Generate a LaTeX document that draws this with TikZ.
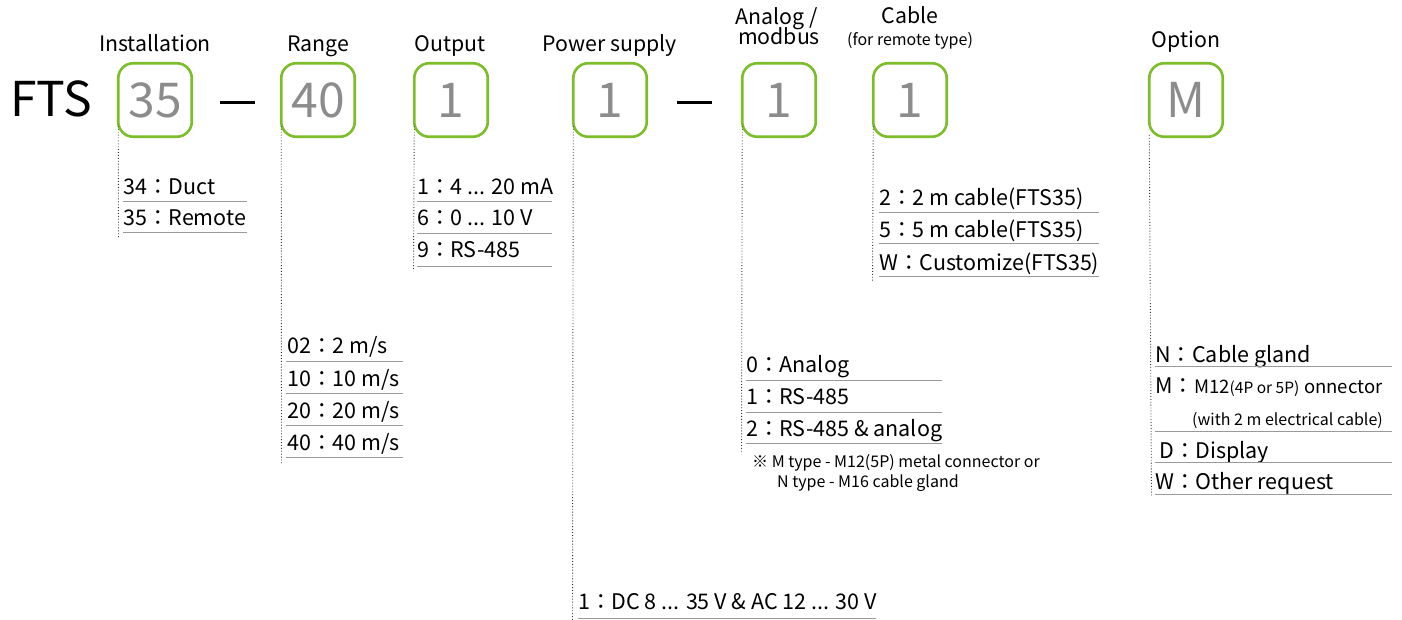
\documentclass[tikz,border=0pt]{standalone}
\usepackage{fontspec}
\setmainfont{Noto Sans CJK JP}
\usetikzlibrary{calc}
\definecolor{grn}{HTML}{7CBD2A}
\definecolor{numgray}{HTML}{8C8C8C}
\definecolor{lgray}{HTML}{9A9A9A}
\newcommand\fsz[1]{\fontsize{#1}{#1}\selectfont}
\begin{document}
\begin{tikzpicture}[x=1pt,y=-1pt,
  digit/.style={draw=grn, line width=2.6pt, rounded corners=15pt, minimum width=73.5pt, minimum height=73.5pt, outer sep=0pt, inner sep=0pt, text=numgray, font=\fsz{48}},
  head/.style={font=\fsz{21.3}, anchor=base, inner sep=0pt},
  item/.style={font=\fsz{21.5}, anchor=base west, inner sep=0pt},
  note/.style={font=\fsz{16}, anchor=base west, inner sep=0pt},
  uline/.style={draw=lgray, line width=1pt},
  dots/.style={dotted, line width=0.9pt, draw=black!80},
  dashline/.style={line width=3.5pt}]
\useasboundingbox (0,0) rectangle (1402,620);

% prefix
\node[anchor=base west, inner sep=0pt, font=\fsz{48}] (fts) at (10,117) {FTS};

% boxes
\node[digit] (b1) at (155,100) {35};
\node[digit] (b2) at (318,100) {40};
\node[digit] (b3) at (451,100) {1};
\node[digit] (b4) at (610,100) {1};
\node[digit] (b5) at (779,100) {1};
\node[digit] (b6) at (910,100) {1};
\node[digit] (b7) at (1186,100) {M};

% dashes
\draw[dashline] (220,102.5) -- (255,102.5);
\draw[dashline] (677,102.5) -- (712,102.5);

% headers
\node[head] (h1) at (155,52) {Installation};
\node[head] (h2) at (318,52) {Range};
\node[head] (h3) at (450,52) {Output};
\node[head] (h4) at (610,52) {Power supply};
\node[head] (h5a) at (777,25) {Analog /};
\node[head] (h5b) at (779,45) {modbus};
\node[head] (h6a) at (910,24) {Cable};
\node[head, font=\fsz{16}] (h6b) at (910,46) {(for remote type)};
\node[head] (h7) at (1186,48) {Option};

% dotted leaders
\coordinate (e1) at (118.5,239);
\coordinate (e2) at (281.5,463);
\coordinate (e3) at (413.5,271);
\coordinate (e4) at (572.5,620);
\coordinate (e5) at (741.5,452);
\coordinate (e6) at (872.5,282);
\coordinate (e7) at (1151.5,497);
\draw[dots] ($(b1.west)+(0,26)$) -- (e1);
\draw[dots] ($(b2.west)+(0,26)$) -- (e2);
\draw[dots] ($(b3.west)+(0,26)$) -- (e3);
\draw[dots] ($(b4.west)+(0,26)$) -- (e4);
\draw[dots] ($(b5.west)+(0,26)$) -- (e5);
\draw[dots] ($(b6.west)+(0,26)$) -- (e6);
\draw[dots] ($(b7.west)+(0,35)$) -- (e7);

% Installation
\node[item] (i1) at (123,195) {34：Duct};
\node[item] (i2) at (123,226) {35：Remote};
\draw[uline] (123,202) -- (247,202);
\draw[uline] (123,233) -- (247,233);

% Range
\node[item] (r1) at (287,353) {02：2 m/s};
\node[item] (r2) at (287,386) {10：10 m/s};
\node[item] (r3) at (287,418) {20：20 m/s};
\node[item] (r4) at (287,450) {40：40 m/s};
\draw[uline] (286,361) -- (403,361);
\draw[uline] (286,393) -- (403,393);
\draw[uline] (286,425) -- (403,425);
\draw[uline] (286,457) -- (403,457);

% Output
\node[item] (o1) at (417,195) {1：4 ... 20 mA};
\node[item] (o2) at (417,226) {6：0 ... 10 V};
\node[item] (o3) at (417,258) {9：RS-485};
\draw[uline] (417,202) -- (552,202);
\draw[uline] (417,234) -- (552,234);
\draw[uline] (417,267) -- (552,267);

% Power supply
\node[item] (p1) at (578,609) {1：DC 8 ... 35 V \& AC 12 ... 30 V};
\draw[uline] (578,618) -- (876,618);

% Analog / modbus
\node[item] (a1) at (746,372) {0：Analog};
\node[item] (a2) at (746,404) {1：RS-485};
\node[item] (a3) at (746,436) {2：RS-485 \& analog};
\draw[uline] (746,380) -- (942,380);
\draw[uline] (746,412) -- (942,412);
\draw[uline] (746,443) -- (942,443);
\node[note] (n1) at (752,467) {※ M type - M12(5P) metal connector or};
\node[note] (n2) at (777,487) {N type - M16 cable gland};

% Cable
\node[item] (c1) at (879,206) {2：2 m cable(FTS35)};
\node[item] (c2) at (879,238) {5：5 m cable(FTS35)};
\node[item] (c3) at (879,270) {W：Customize(FTS35)};
\draw[uline] (879,213) -- (1099,213);
\draw[uline] (879,244) -- (1099,244);
\draw[uline] (879,277) -- (1099,277);

% Option
\node[item] (m1) at (1155,362) {N：Cable gland};
\node[item] (m2) at (1155,393) {M：{\fsz{18.5}M12}{\fsz{15.5}(4P or 5P)} {\fsz{18.5}onnector}};
\node[note] (m3) at (1192,425) {(with 2 m electrical cable)};
\node[item] (m4) at (1159,458) {D：Display};
\node[item] (m5) at (1155,489) {W：Other request};
\draw[uline] (1155,366) -- (1392,366);
\draw[uline] (1155,431) -- (1392,431);
\draw[uline] (1155,462) -- (1392,462);
\draw[uline] (1155,494) -- (1392,494);
\end{tikzpicture}
\end{document}
